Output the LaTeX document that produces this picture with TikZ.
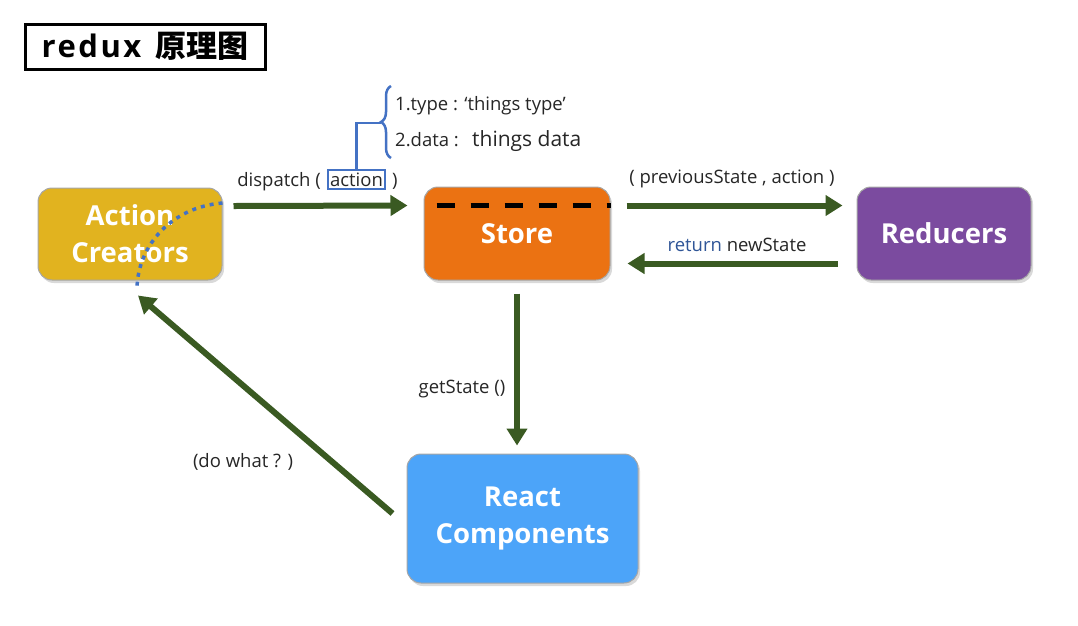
\documentclass[tikz,border=0pt]{standalone}
\usepackage{fontspec}
\setmainfont{Open Sans}
\newfontfamily\cjk{Noto Sans CJK SC}
\usetikzlibrary{arrows.meta,shadows,decorations.pathreplacing}
\definecolor{jianlv}{HTML}{3A5A22}
\definecolor{huang}{HTML}{E1B31F}
\definecolor{cheng}{HTML}{EB7212}
\definecolor{zi}{HTML}{7B4B9F}
\definecolor{tianlan}{HTML}{4CA4F9}
\definecolor{lan}{HTML}{4472C4}
\definecolor{shenlan}{HTML}{2F5597}
\tikzset{
    kuang/.style={rounded corners=14pt, draw=gray!70, line width=1pt, inner sep=0pt,
        text=white, align=center, font=\bfseries\fontsize{27.5}{37}\selectfont,
        drop shadow={opacity=0.3, shadow xshift=2pt, shadow yshift=-3pt}},
    jiantou/.style={draw=jianlv, line width=6pt, -{Triangle[length=17pt,width=20pt]}},
    biaozhu/.style={font=\fontsize{18.5}{22}\selectfont, text=black!85, inner sep=0pt}
}
\begin{document}
\begin{tikzpicture}[x=1pt,y=-1pt]
        \useasboundingbox (0,0) rectangle (1078,625);
        % 标题
        \node[draw=black, line width=3pt, minimum width=240pt, minimum height=45pt, inner sep=0pt,
            font=\bfseries\fontsize{31}{36}\selectfont] (biaoti) at (145,46.5)
            {{\addfontfeatures{LetterSpace=8}redux}\hspace{14pt}{\cjk\bfseries 原理图}};
        % 四个方框
        \node[kuang, fill=huang, minimum width=184pt, minimum height=92pt] (ac) at (130,234) {Action\\Creators};
        \node[kuang, fill=cheng, minimum width=186pt, minimum height=93pt] (store) at (517,233.5) {Store};
        \node[kuang, fill=zi, minimum width=174pt, minimum height=93pt] (red) at (944,233.5) {Reducers};
        \node[kuang, fill=tianlan, minimum width=231pt, minimum height=129pt] (rc) at (522.5,518.5) {React\\Components};
        % store里的虚线,action creators里的点线
        \draw[line width=5pt, dash pattern=on 18pt off 16pt] ([xshift=13pt,yshift=28pt]store.west) -- ([yshift=28pt]store.east);
        \draw[lan, line width=3.5pt, dash pattern=on 4pt off 5pt] ([yshift=31pt]ac.east) .. controls (172,207) and (138,245) .. (137,288);
        % 箭头
        \draw[jiantou] ([xshift=11pt,yshift=28pt]ac.east) -- ([xshift=-16pt,yshift=28pt]store.west);
        \draw[jiantou] ([xshift=16pt,yshift=28pt]store.east) -- ([xshift=-14pt,yshift=28pt]red.west);
        \draw[jiantou] ([xshift=-19pt,yshift=-30pt]red.west) -- ([xshift=17pt,yshift=-30pt]store.east);
        \draw[jiantou] ([yshift=-13pt]store.south) -- ([yshift=8pt]store.south |- rc.north);
        \draw[jiantou] ([xshift=-14pt,yshift=5pt]rc.west) -- ([xshift=8pt,yshift=-15pt]ac.south);
        % 文字
        \node[biaozhu, anchor=base east] (dispatch) at (321,186) {dispatch (};
        \node[biaozhu, draw=lan, line width=2pt, inner sep=2.5pt, anchor=base] (act) at (356.5,186) {action};
        \node[biaozhu, anchor=base west] (kuohao) at (392,186) {)};
        \coordinate (jian) at (381,123);
        \draw[lan, line width=2.5pt] (act.north) |- (jian);
        \draw[lan, line width=2.5pt, decorate, decoration={brace, amplitude=10pt}] (391,158) -- (391,86);
        \node[biaozhu, anchor=base west] (type) at (395,110) {1.type : ‘things type’};
        \node[biaozhu, anchor=base west] (data) at (395,146) {2.data :};
        \node[biaozhu, anchor=base west, font=\fontsize{21}{24}\selectfont] (datav) at (472,146) {things data};
        \node[biaozhu, anchor=base] (prev) at (732,183) {( previousState , action )};
        \node[biaozhu, anchor=base] (ret) at (737,251) {\textcolor{shenlan}{return} newState};
        \node[biaozhu, anchor=base] (get) at (462,393) {getState ()};
        \node[biaozhu, anchor=base] (dowhat) at (243,467) {(do what ? )};
\end{tikzpicture}
\end{document}
